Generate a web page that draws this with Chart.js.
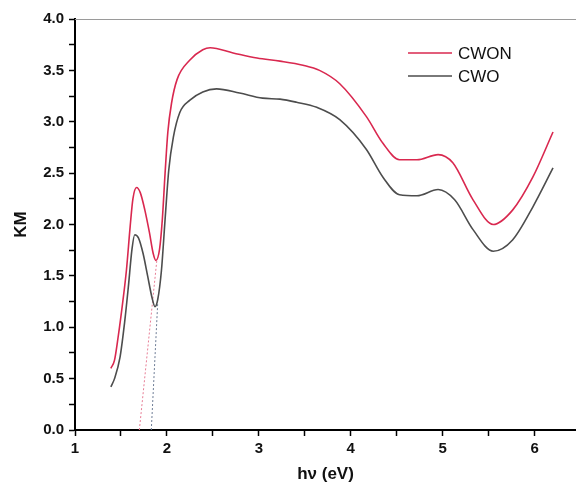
<!DOCTYPE html>
<html>
<head>
<meta charset="utf-8">
<script src="https://cdn.jsdelivr.net/npm/chart.js@4.4.1/dist/chart.umd.min.js"></script>
<style>
  html, body { margin: 0; padding: 0; background: #fff; }
  #wrap { width: 576px; height: 483px; }
</style>
</head>
<body>
<div id="wrap"><canvas id="kmChart" width="576" height="483"></canvas></div>
<script>
// KM vs photon energy
const cwonEnergy = [1.39, 1.43, 1.47, 1.52, 1.56, 1.60, 1.63, 1.67, 1.71, 1.76, 1.81, 1.85, 1.88, 1.92, 1.95, 1.98, 2.01, 2.05, 2.11, 2.25, 2.39, 2.47, 2.72, 2.98, 3.23, 3.48, 3.66, 3.88, 4.17, 4.35, 4.53, 4.72, 4.95, 5.11, 5.33, 5.55, 5.76, 5.98, 6.20];
const cwonKM     = [0.60, 0.68, 0.91, 1.25, 1.56, 1.98, 2.25, 2.36, 2.31, 2.14, 1.92, 1.72, 1.65, 1.76, 2.05, 2.50, 2.90, 3.18, 3.41, 3.60, 3.70, 3.72, 3.67, 3.62, 3.59, 3.55, 3.50, 3.37, 3.05, 2.79, 2.63, 2.63, 2.68, 2.60, 2.24, 2.00, 2.14, 2.46, 2.90];

const cwoEnergy = [1.39, 1.43, 1.49, 1.54, 1.58, 1.62, 1.65, 1.69, 1.74, 1.79, 1.84, 1.87, 1.90, 1.94, 1.98, 2.02, 2.07, 2.14, 2.25, 2.39, 2.54, 2.79, 3.04, 3.23, 3.41, 3.63, 3.88, 4.17, 4.35, 4.53, 4.72, 4.95, 5.13, 5.33, 5.55, 5.76, 5.98, 6.20];
const cwoKM     = [0.42, 0.50, 0.71, 1.05, 1.39, 1.76, 1.90, 1.87, 1.72, 1.50, 1.28, 1.20, 1.27, 1.55, 2.05, 2.53, 2.85, 3.09, 3.21, 3.29, 3.32, 3.28, 3.23, 3.22, 3.19, 3.14, 3.02, 2.73, 2.46, 2.29, 2.28, 2.34, 2.24, 1.95, 1.74, 1.85, 2.17, 2.55];

// band-gap tangent lines (dotted)
const cwonTangentEnergy = [1.70, 1.89];
const cwonTangentKM     = [0.00, 1.65];
const cwoTangentEnergy  = [1.83, 1.90];
const cwoTangentKM      = [0.00, 1.24];

const seriesNames = ['CWON', 'CWO'];
const xTickLabels = [1, 2, 3, 4, 5, 6];
const yTickLabels = [0, 0.5, 1, 1.5, 2, 2.5, 3, 3.5, 4];

const toPoints = (xs, ys) => xs.map((x, i) => ({ x: x, y: ys[i] }));

const RED = '#d9284f';
const GRAY = '#4d4d4d';
const FONT = "'Liberation Sans', Arial, sans-serif";

// legend drawn inside the plot, top right
const insideLegend = {
    id: 'insideLegend',
    afterDraw(chart) {
        const ctx = chart.ctx;
        ctx.save();
        ctx.font = '17px ' + FONT;
        ctx.textBaseline = 'middle';
        ctx.fillStyle = '#111';
        [0, 1].forEach((i, k) => {
            const ds = chart.data.datasets[i];
            const y = 53 + k * 23;
            ctx.strokeStyle = ds.borderColor;
            ctx.lineWidth = 1.5;
            ctx.beginPath();
            ctx.moveTo(408, y);
            ctx.lineTo(452, y);
            ctx.stroke();
            ctx.fillText(ds.label, 458, y + 1);
        });
        ctx.restore();
    }
};

// thin grey frame line along the top of the plot
const topLine = {
    id: 'topLine',
    afterDraw(chart) {
        const a = chart.chartArea;
        const ctx = chart.ctx;
        ctx.save();
        ctx.strokeStyle = '#9a9a9a';
        ctx.lineWidth = 1;
        ctx.beginPath();
        ctx.moveTo(a.left, a.top + 0.5);
        ctx.lineTo(a.right, a.top + 0.5);
        ctx.stroke();
        ctx.restore();
    }
};

new Chart(document.getElementById('kmChart'), {
    type: 'line',
    data: {
        datasets: [
            {
                label: seriesNames[0],
                data: toPoints(cwonEnergy, cwonKM),
                borderColor: RED,
                borderWidth: 1.6,
                pointRadius: 0,
                cubicInterpolationMode: 'monotone'
            },
            {
                label: seriesNames[1],
                data: toPoints(cwoEnergy, cwoKM),
                borderColor: GRAY,
                borderWidth: 1.6,
                pointRadius: 0,
                cubicInterpolationMode: 'monotone'
            },
            {
                label: 'CWON tangent',
                data: toPoints(cwonTangentEnergy, cwonTangentKM),
                borderColor: '#e77d95',
                borderWidth: 1,
                borderDash: [2, 2],
                pointRadius: 0,
                tension: 0
            },
            {
                label: 'CWO tangent',
                data: toPoints(cwoTangentEnergy, cwoTangentKM),
                borderColor: '#6d7c95',
                borderWidth: 1,
                borderDash: [2, 2],
                pointRadius: 0,
                tension: 0
            }
        ]
    },
    options: {
        responsive: false,
        animation: false,
        layout: { padding: { top: 19, right: 0, left: 0, bottom: 0 } },
        plugins: {
            legend: { display: false },
            tooltip: { enabled: false }
        },
        scales: {
            x: {
                type: 'linear',
                min: 1,
                max: 6.45,
                afterFit(scale) { scale.height = 53; },
                border: { color: '#000', width: 2 },
                grid: { drawOnChartArea: false, drawTicks: true, tickLength: 6, tickColor: '#000', tickWidth: 1.5 },
                ticks: {
                    stepSize: 0.5,
                    includeBounds: false,
                    autoSkip: false,
                    maxRotation: 0,
                    padding: 4,
                    color: '#111',
                    font: { family: FONT, size: 15, weight: 'bold' },
                    callback: (v) => xTickLabels.includes(v) ? String(v) : ''
                },
                title: {
                    display: true,
                    text: 'hν (eV)',
                    color: '#111',
                    font: { family: FONT, size: 17, weight: 'bold' },
                    padding: { top: 0, bottom: -2 }
                }
            },
            y: {
                min: 0,
                max: 4,
                afterFit(scale) { scale.width = 75; },
                border: { color: '#000', width: 2 },
                grid: { drawOnChartArea: false, drawTicks: true, tickLength: 6, tickColor: '#000', tickWidth: 1.5 },
                ticks: {
                    stepSize: 0.25,
                    autoSkip: false,
                    padding: 5,
                    color: '#111',
                    font: { family: FONT, size: 15, weight: 'bold' },
                    callback: (v) => yTickLabels.includes(v) ? v.toFixed(1) : ''
                },
                title: {
                    display: true,
                    text: 'KM',
                    color: '#111',
                    font: { family: FONT, size: 17, weight: 'bold' },
                    padding: { top: 11, bottom: 0 }
                }
            }
        }
    },
    plugins: [insideLegend, topLine]
});
</script>
</body>
</html>
